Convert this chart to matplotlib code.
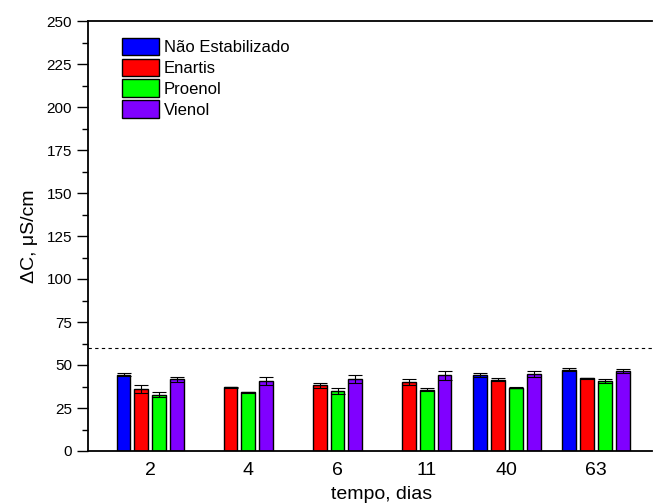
import numpy as np
import matplotlib.pyplot as plt
from matplotlib.ticker import MultipleLocator

plt.rcParams['font.family'] = ['Liberation Sans', 'DejaVu Sans']

days = ['2', '4', '6', '11', '40', '63']
series = ['Não Estabilizado', 'Enartis', 'Proenol', 'Vienol']
colors = ['#0000ff', '#ff0000', '#00ff00', '#8000ff']

nao_est = [44.4, np.nan, np.nan, np.nan, 44.4, 47.3]
enartis = [35.9, 37.2, 38.2, 40.1, 41.5, 42.4]
proenol = [32.7, 34.1, 34.7, 35.7, 36.8, 40.5]
vienol = [41.7, 40.7, 41.9, 44.0, 44.9, 46.5]

nao_err = [0.8, np.nan, np.nan, np.nan, 1.2, 1.0]
enartis_err = [2.3, 0.3, 1.3, 1.5, 1.0, 0.3]
proenol_err = [1.5, 0.3, 1.7, 1.0, 0.3, 1.2]
vienol_err = [1.6, 2.3, 2.1, 2.5, 1.9, 1.0]

limit = 60

values = np.array([nao_est, enartis, proenol, vienol])
errors = np.array([nao_err, enartis_err, proenol_err, vienol_err])

fig = plt.figure(figsize=(6.59, 5.04), dpi=100)
ax = fig.add_axes([88/659, 53/504, 564/659, 430/504])

x = np.arange(len(days))
pitch = 0.201
width = 0.156
offsets = (np.arange(4) - 1.5) * pitch

for k in range(4):
    ax.bar(x + offsets[k], values[k], width, color=colors[k], edgecolor='black',
           linewidth=1, label=series[k], zorder=2)
    ax.errorbar(x + offsets[k], values[k], yerr=errors[k], fmt='none', ecolor='black',
                elinewidth=0.8, capsize=5, capthick=0.8, zorder=3)

# tick at the middle of the bars that exist in each group
centers = []
for i in range(len(days)):
    present = [offsets[k] for k in range(4) if not np.isnan(values[k][i])]
    centers.append(x[i] + (min(present) + max(present)) / 2)

ax.axhline(limit, color='black', linestyle=(0, (3, 3)), linewidth=0.8, zorder=1)

ax.set_xlim(-0.70, 5.63)
ax.set_ylim(0, 250)
ax.set_xticks(centers)
ax.set_xticklabels(days, fontsize=14)
ax.tick_params(axis='x', length=0, pad=8)
ax.yaxis.set_major_locator(MultipleLocator(25))
ax.yaxis.set_minor_locator(MultipleLocator(12.5))
ax.tick_params(axis='y', which='major', direction='out', length=8, width=1, labelsize=11)
ax.tick_params(axis='y', which='minor', direction='out', length=4, width=1)

ax.spines['right'].set_visible(False)
for s in ['left', 'bottom', 'top']:
    ax.spines[s].set_linewidth(1.3)

ax.set_xlabel('tempo, dias', fontsize=14)
ax.xaxis.set_label_coords(0.521, -0.082)
ax.set_ylabel('ΔC, μS/cm', fontsize=14, labelpad=6)

ax.legend(loc='upper left', bbox_to_anchor=(34/564, 1 - 17/430), frameon=False, fontsize=12,
          handlelength=2.2, handleheight=1.23, labelspacing=0.2, handletextpad=0.3,
          borderaxespad=0, borderpad=0)

plt.savefig('out.png', dpi=100)
